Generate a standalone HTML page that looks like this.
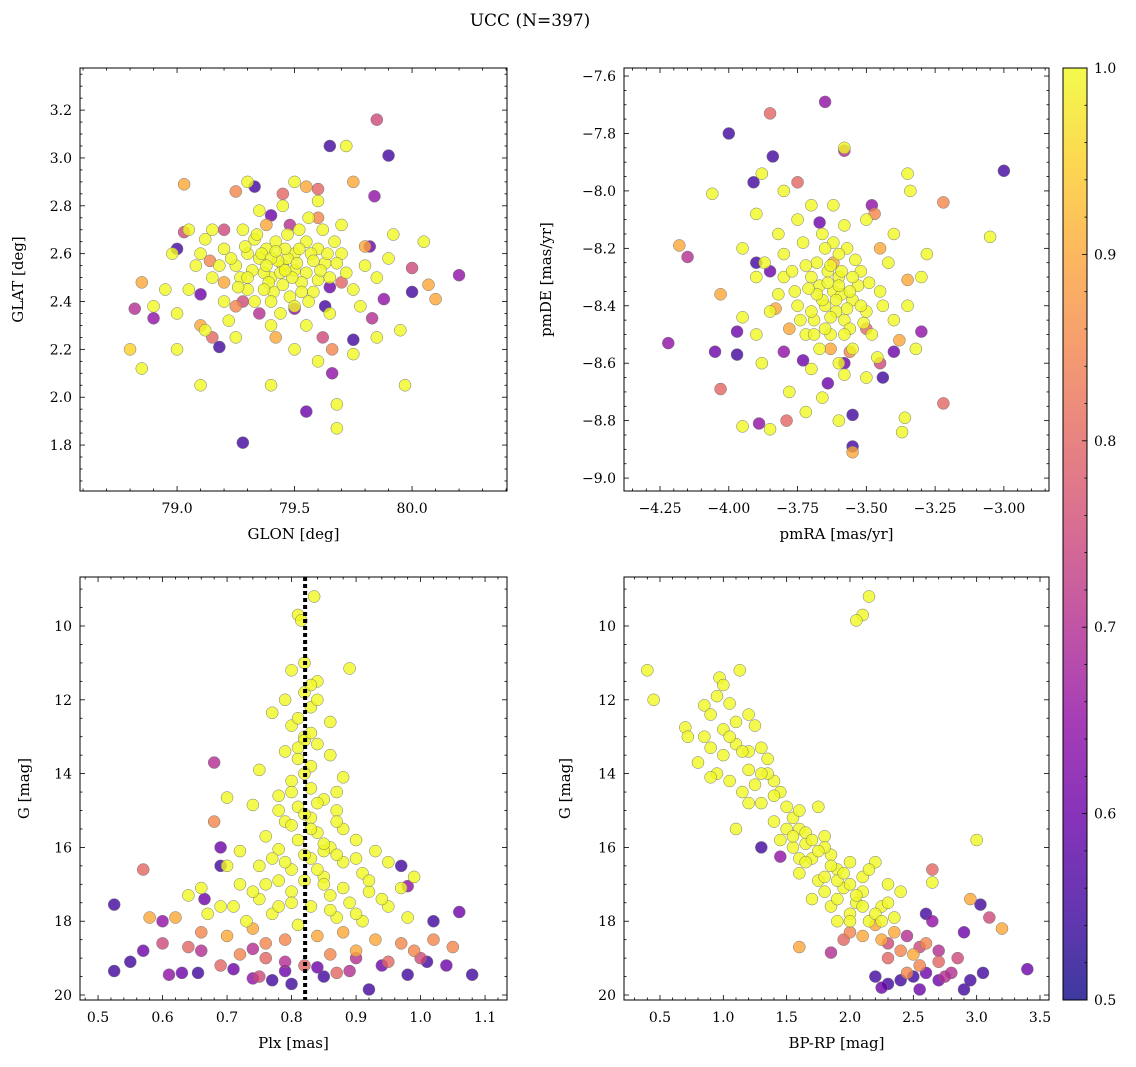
<!DOCTYPE html>
<html><head><meta charset="utf-8">
<style>
body{margin:0;background:#fff;}
svg{display:block;font-family:"DejaVu Serif","Liberation Serif",serif;}
</style></head>
<body>
<svg id="fig" width="1136" height="1067" viewBox="0 0 1136 1067" xmlns="http://www.w3.org/2000/svg">
<text x="530" y="26" font-size="17" text-anchor="middle">UCC (N=397)</text>
</svg>
<script>
// ---- Panel 1: GLON vs GLAT ----
const glonX=[79.45,79.5,79.4,79.35,79.55,79.6,79.3,79.42,79.48,79.52,79.38,79.25,79.65,79.7,79.2,79.33,79.58,79.44,79.62,79.28,79.15,79.1,79.75,79.8,79.05,79.0,78.95,78.9,79.12,79.22,79.4,79.55,79.65,79.78,79.85,79.9,79.35,79.45,79.6,79.15,79.05,79.25,79.5,79.75,79.0,79.1,79.4,79.6,79.85,79.95,79.7,79.3,79.47,79.53,79.41,79.37,79.57,79.63,79.27,79.5,79.45,79.33,79.67,79.2,78.98,79.92,80.05,79.3,79.5,79.72,79.68,79.68,79.97,78.85,78.8,79.75,79.03,80.1,80.07,79.55,79.2,79.38,79.6,79.1,79.25,79.8,78.85,79.42,
79.85,79.65,79.9,79.28,79.55,80.2,80.0,79.33,79.84,80.0,78.82,78.9,79.0,79.03,79.2,79.1,79.18,79.62,79.66,79.75,79.83,79.88,79.82,79.63,79.5,79.35,79.4,79.48,79.65,79.28,79.14,79.25,79.45,79.6,79.7,79.66,79.15,
79.43,79.46,79.51,79.39,79.36,79.55,79.49,79.32,79.58,79.44,79.4,79.53,79.6,79.29,79.47,79.23,79.64,79.37,79.5,79.56,79.34,79.26,79.42,79.52,79.46,79.38,79.61,79.3,79.18,79.68,79.72,79.12,79.08,79.56,79.4];
const glatY=[2.55,2.6,2.5,2.58,2.52,2.62,2.45,2.65,2.42,2.7,2.62,2.55,2.5,2.6,2.62,2.4,2.44,2.35,2.7,2.7,2.5,2.6,2.45,2.55,2.45,2.35,2.45,2.38,2.28,2.32,2.3,2.3,2.35,2.38,2.5,2.58,2.78,2.8,2.82,2.7,2.7,2.25,2.2,2.18,2.2,2.05,2.05,2.15,2.25,2.28,2.72,2.6,2.58,2.48,2.44,2.52,2.6,2.56,2.5,2.53,2.47,2.66,2.65,2.4,2.6,2.68,2.65,2.9,2.9,3.05,1.87,1.97,2.05,2.12,2.2,2.9,2.89,2.41,2.47,2.88,2.48,2.72,2.75,2.3,2.38,2.63,2.48,2.25,
3.16,3.05,3.01,1.81,1.94,2.51,2.44,2.88,2.84,2.54,2.37,2.33,2.62,2.69,2.7,2.43,2.21,2.25,2.1,2.24,2.33,2.41,2.63,2.38,2.37,2.35,2.76,2.72,2.46,2.4,2.57,2.86,2.85,2.87,2.48,2.2,2.25,
2.57,2.62,2.56,2.48,2.6,2.65,2.5,2.53,2.57,2.52,2.58,2.44,2.49,2.63,2.68,2.58,2.6,2.45,2.38,2.4,2.68,2.46,2.61,2.62,2.53,2.55,2.53,2.5,2.55,2.56,2.52,2.66,2.55,2.75,2.4];
const prob1=[1,1,1,1,1,1,1,1,1,1,1,1,1,1,1,1,1,1,1,1,1,1,1,1,1,1,1,1,1,1,1,1,1,1,1,1,1,1,1,1,1,1,1,1,1,1,1,1,1,1,1,1,1,1,1,1,1,1,1,1,1,1,1,1,1,1,1,1,1,1,1,1,1,1,0.95,0.9,0.9,0.9,0.9,0.9,0.9,0.9,0.85,0.9,0.85,0.9,0.9,0.9,
0.75,0.55,0.55,0.55,0.6,0.65,0.55,0.55,0.65,0.75,0.7,0.65,0.55,0.75,0.75,0.6,0.55,0.75,0.65,0.55,0.7,0.65,0.6,0.55,0.65,0.7,0.6,0.7,0.6,0.75,0.85,0.85,0.8,0.8,0.8,0.85,0.8,
1,1,1,1,1,1,1,1,1,1,1,1,1,1,1,1,1,1,1,1,1,1,1,1,1,1,1,1,1,1,1,1,1,1,1];

// ---- Panel 2: pmRA vs pmDE ----
const pmraX=[-3.62,-3.6,-3.65,-3.55,-3.7,-3.58,-3.68,-3.52,-3.75,-3.63,-3.5,-3.72,-3.57,-3.66,-3.8,-3.45,-3.8,-3.85,-3.42,-3.48,-3.6,-3.7,-3.55,-3.9,-3.9,-3.35,-3.3,-3.28,-3.4,-3.5,-3.7,-3.75,-3.82,-3.95,-3.88,-3.78,-3.66,-3.5,-3.46,-3.58,-3.62,-3.73,-3.64,-3.59,-3.67,-3.53,-3.61,-3.69,-3.56,-3.76,-3.87,-3.4,-3.32,-3.95,-4.06,-3.88,-3.35,-3.34,-3.05,-3.36,-3.37,-3.95,-3.85,-3.6,-3.72,-3.58,-3.9,-3.8,
-4.0,-3.65,-3.85,-3.0,-3.84,-3.58,-3.22,-4.22,-4.05,-3.97,-4.03,-4.03,-4.18,-4.15,-3.55,-3.55,-3.22,-3.89,-3.79,-3.44,-3.3,-3.38,-3.91,-3.9,-3.85,-3.97,-3.8,-3.73,-3.64,-3.55,-3.45,-3.4,-3.5,-3.48,-3.47,-3.75,-3.67,-3.83,-3.63,-3.58,-3.35,-3.45,-3.56,-3.62,-3.78,
-3.61,-3.64,-3.59,-3.66,-3.57,-3.63,-3.68,-3.55,-3.6,-3.7,-3.65,-3.52,-3.58,-3.62,-3.72,-3.54,-3.67,-3.74,-3.49,-3.77,-3.6,-3.63,-3.56,-3.71,-3.65,-3.51,-3.69,-3.58,-3.44,-3.82];
const pmdeY=[-8.35,-8.3,-8.4,-8.38,-8.3,-8.45,-8.25,-8.28,-8.4,-8.5,-8.42,-8.5,-8.2,-8.15,-8.3,-8.35,-8.22,-8.42,-8.25,-8.5,-8.6,-8.62,-8.55,-8.3,-8.5,-8.4,-8.3,-8.22,-8.15,-8.1,-8.05,-8.1,-8.15,-8.44,-8.6,-8.7,-8.72,-8.65,-8.58,-8.12,-8.05,-8.18,-8.28,-8.36,-8.33,-8.33,-8.42,-8.45,-8.48,-8.35,-8.25,-8.45,-8.55,-8.2,-8.01,-7.94,-7.94,-8.0,-8.16,-8.79,-8.84,-8.82,-8.83,-8.8,-8.77,-7.85,-8.08,-8.0,
-7.8,-7.69,-7.73,-7.93,-7.88,-7.86,-8.04,-8.53,-8.56,-8.57,-8.69,-8.36,-8.19,-8.23,-8.89,-8.91,-8.74,-8.81,-8.8,-8.65,-8.49,-8.52,-7.97,-8.25,-8.28,-8.49,-8.56,-8.59,-8.67,-8.78,-8.6,-8.56,-8.48,-8.05,-8.08,-7.97,-8.11,-8.41,-8.55,-8.6,-8.31,-8.2,-8.56,-8.25,-8.48,
-8.38,-8.32,-8.28,-8.38,-8.41,-8.44,-8.36,-8.3,-8.22,-8.42,-8.48,-8.4,-8.5,-8.18,-8.26,-8.24,-8.55,-8.45,-8.32,-8.28,-8.33,-8.26,-8.35,-8.34,-8.2,-8.46,-8.5,-8.64,-8.4,-8.36];
const prob2=[1,1,1,1,1,1,1,1,1,1,1,1,1,1,1,1,1,1,1,1,1,1,1,1,1,1,1,1,1,1,1,1,1,1,1,1,1,1,1,1,1,1,1,1,1,1,1,1,1,1,1,1,1,1,1,1,1,1,1,1,1,1,1,1,1,1,1,1,
0.55,0.65,0.8,0.55,0.55,0.7,0.85,0.65,0.6,0.55,0.8,0.9,0.9,0.7,0.55,0.9,0.8,0.65,0.8,0.55,0.65,0.9,0.55,0.55,0.6,0.6,0.65,0.6,0.6,0.55,0.75,0.6,0.8,0.65,0.85,0.8,0.6,0.9,0.9,0.6,0.9,0.9,0.85,0.9,0.9,
1,1,1,1,1,1,1,1,1,1,1,1,1,1,1,1,1,1,1,1,1,1,1,1,1,1,1,1,1,1];

// ---- Panel 3: Plx vs G ----
const plxX=[0.835,0.81,0.815,0.89,0.8,0.84,0.82,0.79,0.77,0.83,0.86,0.8,0.82,0.84,0.79,0.81,0.83,0.86,0.75,0.88,0.8,0.83,0.7,0.85,0.78,0.81,0.74,0.87,0.83,0.79,0.88,0.84,0.76,0.81,0.9,0.86,0.78,0.72,0.93,0.83,0.88,0.75,0.7,0.8,0.95,0.91,0.85,0.78,0.72,0.66,0.99,0.97,0.92,0.86,0.8,0.75,0.69,0.64,0.89,0.83,0.95,0.77,0.67,0.87,0.73,0.81,0.91,0.98,0.85,0.82,0.87,0.77,
0.62,0.58,0.66,0.7,0.74,0.79,0.84,0.88,0.93,0.97,1.02,0.68,0.57,0.64,0.72,0.76,0.86,0.9,0.99,0.69,0.82,0.95,1.05,0.76,0.6,0.75,1.0,0.87,
0.525,0.525,0.55,0.57,0.6,0.61,0.63,0.655,0.665,0.68,0.69,0.69,0.71,0.74,0.77,0.79,0.8,0.84,0.85,0.89,0.92,0.94,0.97,0.98,1.01,1.02,1.04,1.06,1.08,0.98,0.66,0.74,0.9,0.79,
0.82,0.83,0.81,0.82,0.8,0.84,0.82,0.83,0.8,0.85,0.82,0.87,0.79,0.84,0.9,0.76,0.8,0.85,0.88,0.92,0.94,0.74,0.78,0.86,0.82,0.83,0.81,0.84,0.78,0.87,0.71,0.9];
const gmag3=[9.2,9.7,9.85,11.15,11.2,11.5,11.8,12.0,12.35,12.2,12.6,12.7,13.0,13.2,13.4,13.6,13.8,13.5,13.9,14.1,14.2,14.4,14.65,14.7,14.6,14.9,14.85,15.0,15.2,15.3,15.5,15.6,15.7,15.8,15.8,16.0,16.05,16.1,16.1,16.3,16.4,16.5,16.5,16.6,16.4,16.7,16.8,16.9,17.0,17.1,16.8,17.1,17.2,17.3,17.2,17.4,17.6,17.3,17.5,17.6,17.6,17.8,17.8,17.9,18.0,18.1,18.0,17.9,16.1,16.9,14.5,16.3,
17.9,17.9,18.3,18.4,18.2,18.5,18.4,18.3,18.5,18.6,18.5,15.3,16.6,18.7,18.9,19.0,18.9,18.8,18.8,19.2,19.2,19.1,18.7,18.6,18.6,19.5,19.0,19.4,
17.55,19.35,19.1,18.8,18.0,19.45,19.4,19.4,17.4,13.7,16.0,16.5,19.3,19.55,19.6,19.35,19.7,19.25,19.5,19.35,19.85,19.2,16.5,19.45,19.1,18.0,19.2,17.75,19.45,17.05,18.8,18.75,19.0,19.1,
13.1,12.9,13.3,14.0,14.5,14.8,15.1,15.5,15.4,15.9,16.2,16.2,16.4,16.6,16.3,17.0,17.5,17.0,17.1,16.9,17.4,17.2,17.6,17.7,11.0,11.6,12.5,12.0,15.0,15.3,17.6,17.8];
const prob3=[1,1,1,1,1,1,1,1,1,1,1,1,1,1,1,1,1,1,1,1,1,1,1,1,1,1,1,1,1,1,1,1,1,1,1,1,1,1,1,1,1,1,1,1,1,1,1,1,1,1,1,1,1,1,1,1,1,1,1,1,1,1,1,1,1,1,1,1,1,1,1,1,
0.9,0.9,0.85,0.9,0.9,0.85,0.9,0.9,0.9,0.85,0.85,0.85,0.8,0.8,0.85,0.8,0.85,0.9,0.85,0.8,0.8,0.8,0.85,0.85,0.75,0.75,0.75,0.8,
0.55,0.55,0.55,0.6,0.65,0.65,0.6,0.55,0.6,0.7,0.6,0.55,0.6,0.65,0.55,0.6,0.55,0.6,0.55,0.7,0.55,0.6,0.55,0.55,0.55,0.55,0.6,0.6,0.55,0.65,0.7,0.7,0.7,0.7,
1,1,1,1,1,1,1,1,1,1,1,1,1,1,1,1,1,1,1,1,1,1,1,1,1,1,1,1,1,1,1,1];
const plxLine=0.821;

// ---- Panel 4: BP-RP vs G ----
const bprpX=[2.15,2.1,2.05,0.4,0.45,0.97,1.0,1.13,0.95,1.05,0.85,0.9,1.1,1.2,1.25,0.7,0.72,0.8,0.9,1.0,1.1,1.2,1.3,1.35,1.4,0.95,1.05,1.15,1.25,1.3,1.45,1.5,1.55,1.1,1.4,1.6,1.65,1.75,1.8,1.55,1.7,1.85,1.9,1.6,1.75,2.0,2.1,1.95,1.8,1.85,2.05,2.2,2.3,2.0,2.15,2.25,2.4,2.65,3.0,1.35,1.6,1.7,1.9,2.1,1.45,1.8,
2.95,3.2,2.1,2.25,2.35,2.4,2.5,2.55,2.6,2.65,2.0,1.6,2.3,2.45,2.2,1.95,2.7,
1.3,1.45,1.85,2.6,2.65,3.03,3.1,3.4,2.9,2.85,2.9,2.95,2.8,2.7,2.6,2.5,2.4,2.3,2.2,2.25,2.55,2.75,3.05,2.45,2.3,2.7,2.55,
1.0,1.05,1.15,1.2,1.3,1.4,1.5,1.6,1.65,1.7,1.75,1.85,1.9,1.95,2.0,2.05,2.1,2.2,2.25,1.8,1.9,2.0,2.15,2.3,1.55,1.65,0.85,0.9,1.2,2.35];
const gmag4=[9.2,9.7,9.85,11.2,12.0,11.4,11.6,11.2,11.9,12.1,12.15,12.4,12.6,12.4,12.7,12.75,13.0,13.7,13.3,13.5,13.2,13.4,13.3,13.6,14.2,14.0,14.2,14.5,14.3,14.8,14.5,14.9,15.2,15.5,15.3,15.5,15.9,14.9,15.7,16.0,16.3,16.2,16.6,16.7,16.9,16.4,16.8,17.1,17.2,17.6,17.5,16.4,17.0,17.8,18.0,17.6,17.2,16.95,15.8,14.0,16.3,17.4,18.0,17.2,15.8,16.0,
17.4,18.2,18.4,18.5,18.3,18.8,18.9,19.2,18.6,16.6,18.3,18.7,19.0,19.4,18.1,18.5,19.1,
16.0,16.25,18.85,17.8,18.0,17.55,17.9,19.3,18.3,19.0,19.85,19.6,19.4,19.6,19.4,19.5,19.6,19.7,19.5,19.8,19.85,19.5,19.4,18.4,18.6,18.8,18.7,
12.8,13.0,13.4,13.9,14.0,14.6,15.5,15.0,15.6,15.8,16.1,16.5,16.9,16.7,17.0,17.3,17.6,17.8,18.0,16.8,17.4,18.0,16.6,17.5,15.7,16.4,13.0,14.1,14.8,17.9];
const prob4=[1,1,1,1,1,1,1,1,1,1,1,1,1,1,1,1,1,1,1,1,1,1,1,1,1,1,1,1,1,1,1,1,1,1,1,1,1,1,1,1,1,1,1,1,1,1,1,1,1,1,1,1,1,1,1,1,1,1,1,1,1,1,1,1,1,1,
0.9,0.9,0.9,0.9,0.9,0.85,0.9,0.85,0.85,0.8,0.85,0.9,0.8,0.85,0.9,0.8,0.8,
0.55,0.65,0.7,0.55,0.65,0.55,0.75,0.6,0.6,0.75,0.55,0.55,0.7,0.6,0.6,0.55,0.55,0.55,0.55,0.6,0.6,0.7,0.55,0.7,0.75,0.7,0.75,
1,1,1,1,1,1,1,1,1,1,1,1,1,1,1,1,1,1,1,1,1,1,1,1,1,1,1,1,1,1];

// ---- colorbar ----
const cbTicks=[0.5,0.6,0.7,0.8,0.9,1.0];

const NS="http://www.w3.org/2000/svg";
const svg=document.getElementById('fig');
function mk(tag,attrs,parent){const e=document.createElementNS(NS,tag);for(const k in attrs)e.setAttribute(k,attrs[k]);(parent||svg).appendChild(e);return e;}
const stops=[[13,8,135],[65,4,157],[106,0,168],[143,13,164],[177,42,144],[204,71,120],[225,100,98],[242,132,75],[252,166,54],[252,206,37],[240,249,33]];
function plasma(p){let t=Math.max(0,Math.min(1,(p-0.5)/0.5))*10;let i=Math.min(9,Math.floor(t));let f=t-i;const a=stops[i],b=stops[i+1];
return 'rgb('+[0,1,2].map(k=>Math.round(a[k]+(b[k]-a[k])*f)).join(',')+')';}
function fmt(v,d){let s=v.toFixed(d);return v<0?'\u2212'+s.slice(1):s;}

function panel(cfg){
  const {name,x0,x1,y0,y1,xmin,xmax,ymin,ymax,invY,xs,ys,ps,xmaj,xmin2,ymaj,ymin2,xd,yd,xlabel,ylabel,ylabX}=cfg;
  const g=mk('g',{});
  
  
  const X=v=>x0+(v-xmin)/(xmax-xmin)*(x1-x0);
  const Y=v=>invY? y0+(v-ymin)/(ymax-ymin)*(y1-y0) : y1-(v-ymin)/(ymax-ymin)*(y1-y0);
  const clip='clip-'+name;
  const cp=mk('clipPath',{id:clip},g);mk('rect',{x:x0,y:y0,width:x1-x0,height:y1-y0},cp);
  const pts=mk('g',{'clip-path':'url(#'+clip+')'},g);
  
  
  const idx=xs.map((_,i)=>i).sort((a,b)=>ps[a]-ps[b]);
  idx.forEach(i=>{
    const c=mk('circle',{cx:X(xs[i]),cy:Y(ys[i]),r:6,fill:plasma(ps[i]),'fill-opacity':0.8,stroke:'#777','stroke-width':0.5},pts);
    
    
  });
  if(cfg.vline!==undefined){
    const l=mk('line',{x1:X(cfg.vline),x2:X(cfg.vline),y1:y0,y2:y1,stroke:'#000','stroke-width':4,'stroke-dasharray':'4,3'},g);
    
    
  }
  mk('rect',{x:x0,y:y0,width:x1-x0,height:y1-y0,fill:'none',stroke:'#000','stroke-width':1},g);
  const tk=mk('g',{stroke:'#000','stroke-width':0.8},g);
  const eps=1e-9;
  for(let v=Math.ceil(xmin/xmin2-eps)*xmin2;v<=xmax+eps;v+=xmin2){
    const px=X(v);const major=Math.abs(v/xmaj-Math.round(v/xmaj))<1e-6;const L=major?5:2.5;
    mk('line',{x1:px,x2:px,y1:y1,y2:y1-L},tk);mk('line',{x1:px,x2:px,y1:y0,y2:y0+L},tk);
    if(major){const t=mk('text',{x:px,y:y1+22,'font-size':14,'text-anchor':'middle',stroke:'none'},g);t.textContent=fmt(Math.round(v/xmaj)*xmaj,xd);
      }
  }
  for(let v=Math.ceil(ymin/ymin2-eps)*ymin2;v<=ymax+eps;v+=ymin2){
    const py=Y(v);const major=Math.abs(v/ymaj-Math.round(v/ymaj))<1e-6;const L=major?5:2.5;
    mk('line',{x1:x0,x2:x0+L,y1:py,y2:py},tk);mk('line',{x1:x1,x2:x1-L,y1:py,y2:py},tk);
    if(major){const t=mk('text',{x:x0-8,y:py+5,'font-size':14,'text-anchor':'end',stroke:'none'},g);t.textContent=fmt(Math.round(v/ymaj)*ymaj,yd);
      }
  }
  const xl=mk('text',{x:(x0+x1)/2,y:y1+48,'font-size':15,'text-anchor':'middle'},g);xl.textContent=xlabel;
  
  const yl=mk('text',{x:0,y:0,'font-size':15,'text-anchor':'middle',transform:'translate('+ylabX+','+((y0+y1)/2)+') rotate(-90)'},g);yl.textContent=ylabel;
  
}

panel({name:'glon-glat-panel',x0:80,x1:507,y0:68,y1:491,xmin:78.587,xmax:80.404,ymin:1.608,ymax:3.376,xs:glonX,ys:glatY,ps:prob1,xmaj:0.5,xmin2:0.1,ymaj:0.2,ymin2:0.05,xd:1,yd:1,xlabel:'GLON [deg]',ylabel:'GLAT [deg]',ylabX:23});
panel({name:'pm-panel',x0:624,x1:1049,y0:68,y1:491,xmin:-4.381,xmax:-2.836,ymin:-9.045,ymax:-7.572,xs:pmraX,ys:pmdeY,ps:prob2,xmaj:0.25,xmin2:0.05,ymaj:0.2,ymin2:0.05,xd:2,yd:1,xlabel:'pmRA [mas/yr]',ylabel:'pmDE [mas/yr]',ylabX:551});
panel({name:'plx-g-panel',x0:80,x1:507,y0:577,y1:1000,xmin:0.472,xmax:1.134,ymin:8.672,ymax:20.135,invY:true,xs:plxX,ys:gmag3,ps:prob3,xmaj:0.1,xmin2:0.02,ymaj:2,ymin2:0.5,xd:1,yd:0,xlabel:'Plx [mas]',ylabel:'G [mag]',ylabX:29,vline:plxLine});
panel({name:'cmd-panel',x0:624,x1:1049,y0:577,y1:1000,xmin:0.216,xmax:3.571,ymin:8.672,ymax:20.135,invY:true,xs:bprpX,ys:gmag4,ps:prob4,xmaj:0.5,xmin2:0.1,ymaj:2,ymin2:0.5,xd:1,yd:0,xlabel:'BP-RP [mag]',ylabel:'G [mag]',ylabX:570});

// colorbar
(function(){
  const cx0=1063,cx1=1087,cy0=68,cy1=1000;
  const g=mk('g',{});
  
  
  const defs=mk('defs',{},g);
  const lg=mk('linearGradient',{id:'cbgrad',x1:0,y1:1,x2:0,y2:0},defs);
  for(let i=0;i<=20;i++){mk('stop',{offset:(i/20),'stop-color':plasma(0.5+i/40),'stop-opacity':0.8},lg);}
  mk('rect',{x:cx0,y:cy0,width:cx1-cx0,height:cy1-cy0,fill:'url(#cbgrad)',stroke:'#000','stroke-width':1},g);
  const Y=v=>cy1-(v-0.5)/0.5*(cy1-cy0);
  for(let k=0;k<=25;k++){const v=0.5+k*0.02;const py=Y(v);const major=(k%5===0);const L=major?5:2.5;
    mk('line',{x1:cx1,x2:cx1-L,y1:py,y2:py,stroke:'#000','stroke-width':0.8},g);}
  cbTicks.forEach(v=>{const t=mk('text',{x:cx1+7,y:Y(v)+5,'font-size':14},g);t.textContent=v.toFixed(1);
    });
})();
</script>
</body></html>
